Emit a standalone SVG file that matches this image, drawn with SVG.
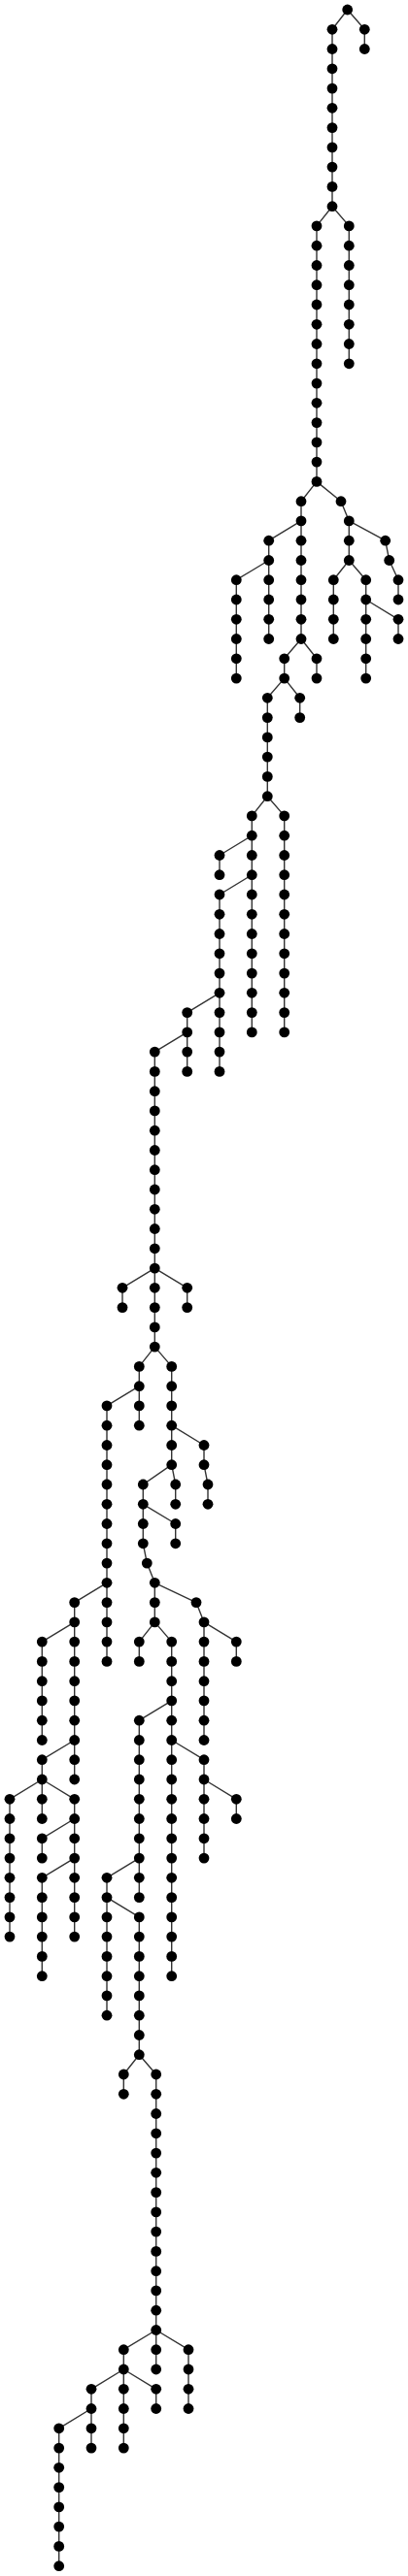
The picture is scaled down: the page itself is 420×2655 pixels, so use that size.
<svg xmlns="http://www.w3.org/2000/svg" width="420" height="2655" viewBox="0 0 420 2655">
<style>
.edges path{fill:none;stroke:#333;stroke-width:1.4}
.node circle{fill:#000}
</style>
<rect width="420" height="2655" fill="#fff"/>
<g id="connectors" class="edges">
<path d="M342 30.3V212.7M375.3 30.3V50.5M359.3 232.9V374.8M326 232.9V496.4M310 516.7V658.5M276.7 557.2V658.5M243.3 597.7V699.1M326 678.8V699.1M292.7 678.8V699.1M308.7 719.3V739.6M275.3 719.3V820.7M292.7 840.9V1063.9M259.3 840.9V1063.9M226 881.5V901.7M226 922V1104.4M192.7 1043.6V1104.4M159.3 1084.1V1388.1M126 1327.3V1347.6M192.7 1327.3V1347.6M143.3 1408.4V1469.2M110 1448.9V1712.4M76.7 1651.6V1834M43.3 1692.1V1793.5M43.3 1813.7V1874.5M10 1854.3V1996.1M76.7 1854.3V1996.1M43.3 1894.8V1915.1M43.3 1935.3V2036.7M176.7 1408.4V1509.7M210 1489.5V1509.7M214 1530V1550.3M180.7 1530V1550.3M147.3 1530V1590.8M180.7 1570.5V1590.8M159.3 1631.3V1671.9M143.3 1692.1V1712.4M176.7 1692.1V2036.7M210 1671.9V1793.5M243.3 1692.1V1712.4M210 1813.7V1915.1M243.3 1854.3V1874.5M143.3 1773.2V1955.6M110 1935.3V2077.2M143.3 1975.9V2117.7M127.3 2138V2158.3M160.7 2138V2442M194 2421.7V2482.5M127.3 2421.7V2523.1M160.7 2462.3V2482.5M94 2462.3V2523.1M60.7 2502.8V2644.7M359.3 536.9V577.5M343.3 597.7V658.5M376.7 597.7V699.1M410 638.3V658.5M410 597.7V618"/>
<path d="M357.7 10L342 30.3M357.7 10L375.3 30.3M342 212.7L326 232.9M342 212.7L359.3 232.9M326 496.4L310 516.7M326 496.4L351 516.7M351 516.7L359.3 536.9M359.3 536.9L396.7 557.2M396.7 557.2L400.7 577.5M400.7 577.5L410 597.7M359.3 577.5L343.3 597.7M359.3 577.5L376.7 597.7M376.7 618L410 638.3M310 536.9L276.7 557.2M276.7 577.5L243.3 597.7M310 658.5L292.7 678.8M310 658.5L326 678.8M292.7 699.1L275.3 719.3M292.7 699.1L308.7 719.3M275.3 820.7L259.3 840.9M275.3 820.7L292.7 840.9M259.3 861.2L226 881.5M259.3 901.7L226 922M226 1023.3L192.7 1043.6M192.7 1063.9L159.3 1084.1M159.3 1307.1L126 1327.3M159.3 1307.1L192.7 1327.3M159.3 1388.1L143.3 1408.4M159.3 1388.1L176.7 1408.4M143.3 1428.7L110 1448.9M110 1631.3L76.7 1651.6M76.7 1671.9L43.3 1692.1M76.7 1793.5L43.3 1813.7M43.3 1834L10 1854.3M43.3 1834L76.7 1854.3M76.7 1874.5L43.3 1894.8M76.7 1915.1L43.3 1935.3M176.7 1469.2L210 1489.5M210 1509.7L214 1530M176.7 1509.7L147.3 1530M176.7 1509.7L180.7 1530M147.3 1550.3L180.7 1570.5M147.3 1590.8L151.3 1611.1M151.3 1611.1L159.3 1631.3M159.3 1631.3L202 1651.6M202 1651.6L210 1671.9M210 1671.9L243.3 1692.1M159.3 1671.9L143.3 1692.1M159.3 1671.9L176.7 1692.1M176.7 1752.9L143.3 1773.2M176.7 1793.5L210 1813.7M210 1834L243.3 1854.3M143.3 1915.1L110 1935.3M110 1955.6L143.3 1975.9M143.3 2117.7L127.3 2138M143.3 2117.7L160.7 2138M160.7 2401.5L127.3 2421.7M160.7 2401.5L194 2421.7M127.3 2442L94 2462.3M127.3 2442L160.7 2462.3M94 2482.5L60.7 2502.8"/>
</g>
<g id="nodes" class="node">
<g id="n0"><circle cx="357.7" cy="10" r="5.4"/></g>
<g id="n1"><circle cx="342" cy="30.3" r="5.4"/></g>
<g id="n2"><circle cx="342" cy="50.5" r="5.4"/></g>
<g id="n3"><circle cx="342" cy="70.8" r="5.4"/></g>
<g id="n4"><circle cx="342" cy="91.1" r="5.4"/></g>
<g id="n5"><circle cx="342" cy="111.3" r="5.4"/></g>
<g id="n6"><circle cx="342" cy="131.6" r="5.4"/></g>
<g id="n7"><circle cx="342" cy="151.9" r="5.4"/></g>
<g id="n8"><circle cx="342" cy="172.1" r="5.4"/></g>
<g id="n9"><circle cx="342" cy="192.4" r="5.4"/></g>
<g id="n10"><circle cx="342" cy="212.7" r="5.4"/></g>
<g id="n11"><circle cx="375.3" cy="30.3" r="5.4"/></g>
<g id="n12"><circle cx="375.3" cy="50.5" r="5.4"/></g>
<g id="n13"><circle cx="359.3" cy="232.9" r="5.4"/></g>
<g id="n14"><circle cx="359.3" cy="253.2" r="5.4"/></g>
<g id="n15"><circle cx="359.3" cy="273.5" r="5.4"/></g>
<g id="n16"><circle cx="359.3" cy="293.7" r="5.4"/></g>
<g id="n17"><circle cx="359.3" cy="314" r="5.4"/></g>
<g id="n18"><circle cx="359.3" cy="334.3" r="5.4"/></g>
<g id="n19"><circle cx="359.3" cy="354.5" r="5.4"/></g>
<g id="n20"><circle cx="359.3" cy="374.8" r="5.4"/></g>
<g id="n21"><circle cx="326" cy="232.9" r="5.4"/></g>
<g id="n22"><circle cx="326" cy="253.2" r="5.4"/></g>
<g id="n23"><circle cx="326" cy="273.5" r="5.4"/></g>
<g id="n24"><circle cx="326" cy="293.7" r="5.4"/></g>
<g id="n25"><circle cx="326" cy="314" r="5.4"/></g>
<g id="n26"><circle cx="326" cy="334.3" r="5.4"/></g>
<g id="n27"><circle cx="326" cy="354.5" r="5.4"/></g>
<g id="n28"><circle cx="326" cy="374.8" r="5.4"/></g>
<g id="n29"><circle cx="326" cy="395.1" r="5.4"/></g>
<g id="n30"><circle cx="326" cy="415.3" r="5.4"/></g>
<g id="n31"><circle cx="326" cy="435.6" r="5.4"/></g>
<g id="n32"><circle cx="326" cy="455.9" r="5.4"/></g>
<g id="n33"><circle cx="326" cy="476.1" r="5.4"/></g>
<g id="n34"><circle cx="326" cy="496.4" r="5.4"/></g>
<g id="n35"><circle cx="351" cy="516.7" r="5.4"/></g>
<g id="n36"><circle cx="359.3" cy="536.9" r="5.4"/></g>
<g id="n37"><circle cx="359.3" cy="557.2" r="5.4"/></g>
<g id="n38"><circle cx="359.3" cy="577.5" r="5.4"/></g>
<g id="n39"><circle cx="396.7" cy="557.2" r="5.4"/></g>
<g id="n40"><circle cx="400.7" cy="577.5" r="5.4"/></g>
<g id="n41"><circle cx="410" cy="597.7" r="5.4"/></g>
<g id="n42"><circle cx="410" cy="618" r="5.4"/></g>
<g id="n43"><circle cx="343.3" cy="597.7" r="5.4"/></g>
<g id="n44"><circle cx="343.3" cy="618" r="5.4"/></g>
<g id="n45"><circle cx="343.3" cy="638.3" r="5.4"/></g>
<g id="n46"><circle cx="343.3" cy="658.5" r="5.4"/></g>
<g id="n47"><circle cx="376.7" cy="597.7" r="5.4"/></g>
<g id="n48"><circle cx="376.7" cy="618" r="5.4"/></g>
<g id="n49"><circle cx="376.7" cy="638.3" r="5.4"/></g>
<g id="n50"><circle cx="376.7" cy="658.5" r="5.4"/></g>
<g id="n51"><circle cx="376.7" cy="678.8" r="5.4"/></g>
<g id="n52"><circle cx="376.7" cy="699.1" r="5.4"/></g>
<g id="n53"><circle cx="410" cy="638.3" r="5.4"/></g>
<g id="n54"><circle cx="410" cy="658.5" r="5.4"/></g>
<g id="n55"><circle cx="310" cy="516.7" r="5.4"/></g>
<g id="n56"><circle cx="310" cy="536.9" r="5.4"/></g>
<g id="n57"><circle cx="310" cy="557.2" r="5.4"/></g>
<g id="n58"><circle cx="310" cy="577.5" r="5.4"/></g>
<g id="n59"><circle cx="310" cy="597.7" r="5.4"/></g>
<g id="n60"><circle cx="310" cy="618" r="5.4"/></g>
<g id="n61"><circle cx="310" cy="638.3" r="5.4"/></g>
<g id="n62"><circle cx="310" cy="658.5" r="5.4"/></g>
<g id="n63"><circle cx="276.7" cy="557.2" r="5.4"/></g>
<g id="n64"><circle cx="276.7" cy="577.5" r="5.4"/></g>
<g id="n65"><circle cx="276.7" cy="597.7" r="5.4"/></g>
<g id="n66"><circle cx="276.7" cy="618" r="5.4"/></g>
<g id="n67"><circle cx="276.7" cy="638.3" r="5.4"/></g>
<g id="n68"><circle cx="276.7" cy="658.5" r="5.4"/></g>
<g id="n69"><circle cx="243.3" cy="597.7" r="5.4"/></g>
<g id="n70"><circle cx="243.3" cy="618" r="5.4"/></g>
<g id="n71"><circle cx="243.3" cy="638.3" r="5.4"/></g>
<g id="n72"><circle cx="243.3" cy="658.5" r="5.4"/></g>
<g id="n73"><circle cx="243.3" cy="678.8" r="5.4"/></g>
<g id="n74"><circle cx="243.3" cy="699.1" r="5.4"/></g>
<g id="n75"><circle cx="326" cy="678.8" r="5.4"/></g>
<g id="n76"><circle cx="326" cy="699.1" r="5.4"/></g>
<g id="n77"><circle cx="292.7" cy="678.8" r="5.4"/></g>
<g id="n78"><circle cx="292.7" cy="699.1" r="5.4"/></g>
<g id="n79"><circle cx="308.7" cy="719.3" r="5.4"/></g>
<g id="n80"><circle cx="308.7" cy="739.6" r="5.4"/></g>
<g id="n81"><circle cx="275.3" cy="719.3" r="5.4"/></g>
<g id="n82"><circle cx="275.3" cy="739.6" r="5.4"/></g>
<g id="n83"><circle cx="275.3" cy="759.9" r="5.4"/></g>
<g id="n84"><circle cx="275.3" cy="780.1" r="5.4"/></g>
<g id="n85"><circle cx="275.3" cy="800.4" r="5.4"/></g>
<g id="n86"><circle cx="275.3" cy="820.7" r="5.4"/></g>
<g id="n87"><circle cx="292.7" cy="840.9" r="5.4"/></g>
<g id="n88"><circle cx="292.7" cy="861.2" r="5.4"/></g>
<g id="n89"><circle cx="292.7" cy="881.5" r="5.4"/></g>
<g id="n90"><circle cx="292.7" cy="901.7" r="5.4"/></g>
<g id="n91"><circle cx="292.7" cy="922" r="5.4"/></g>
<g id="n92"><circle cx="292.7" cy="942.3" r="5.4"/></g>
<g id="n93"><circle cx="292.7" cy="962.5" r="5.4"/></g>
<g id="n94"><circle cx="292.7" cy="982.8" r="5.4"/></g>
<g id="n95"><circle cx="292.7" cy="1003.1" r="5.4"/></g>
<g id="n96"><circle cx="292.7" cy="1023.3" r="5.4"/></g>
<g id="n97"><circle cx="292.7" cy="1043.6" r="5.4"/></g>
<g id="n98"><circle cx="292.7" cy="1063.9" r="5.4"/></g>
<g id="n99"><circle cx="259.3" cy="840.9" r="5.4"/></g>
<g id="n100"><circle cx="259.3" cy="861.2" r="5.4"/></g>
<g id="n101"><circle cx="259.3" cy="881.5" r="5.4"/></g>
<g id="n102"><circle cx="259.3" cy="901.7" r="5.4"/></g>
<g id="n103"><circle cx="259.3" cy="922" r="5.4"/></g>
<g id="n104"><circle cx="259.3" cy="942.3" r="5.4"/></g>
<g id="n105"><circle cx="259.3" cy="962.5" r="5.4"/></g>
<g id="n106"><circle cx="259.3" cy="982.8" r="5.4"/></g>
<g id="n107"><circle cx="259.3" cy="1003.1" r="5.4"/></g>
<g id="n108"><circle cx="259.3" cy="1023.3" r="5.4"/></g>
<g id="n109"><circle cx="259.3" cy="1043.6" r="5.4"/></g>
<g id="n110"><circle cx="259.3" cy="1063.9" r="5.4"/></g>
<g id="n111"><circle cx="226" cy="881.5" r="5.4"/></g>
<g id="n112"><circle cx="226" cy="901.7" r="5.4"/></g>
<g id="n113"><circle cx="226" cy="922" r="5.4"/></g>
<g id="n114"><circle cx="226" cy="942.3" r="5.4"/></g>
<g id="n115"><circle cx="226" cy="962.5" r="5.4"/></g>
<g id="n116"><circle cx="226" cy="982.8" r="5.4"/></g>
<g id="n117"><circle cx="226" cy="1003.1" r="5.4"/></g>
<g id="n118"><circle cx="226" cy="1023.3" r="5.4"/></g>
<g id="n119"><circle cx="226" cy="1043.6" r="5.4"/></g>
<g id="n120"><circle cx="226" cy="1063.9" r="5.4"/></g>
<g id="n121"><circle cx="226" cy="1084.1" r="5.4"/></g>
<g id="n122"><circle cx="226" cy="1104.4" r="5.4"/></g>
<g id="n123"><circle cx="192.7" cy="1043.6" r="5.4"/></g>
<g id="n124"><circle cx="192.7" cy="1063.9" r="5.4"/></g>
<g id="n125"><circle cx="192.7" cy="1084.1" r="5.4"/></g>
<g id="n126"><circle cx="192.7" cy="1104.4" r="5.4"/></g>
<g id="n127"><circle cx="159.3" cy="1084.1" r="5.4"/></g>
<g id="n128"><circle cx="159.3" cy="1104.4" r="5.4"/></g>
<g id="n129"><circle cx="159.3" cy="1124.7" r="5.4"/></g>
<g id="n130"><circle cx="159.3" cy="1144.9" r="5.4"/></g>
<g id="n131"><circle cx="159.3" cy="1165.2" r="5.4"/></g>
<g id="n132"><circle cx="159.3" cy="1185.5" r="5.4"/></g>
<g id="n133"><circle cx="159.3" cy="1205.7" r="5.4"/></g>
<g id="n134"><circle cx="159.3" cy="1226" r="5.4"/></g>
<g id="n135"><circle cx="159.3" cy="1246.3" r="5.4"/></g>
<g id="n136"><circle cx="159.3" cy="1266.5" r="5.4"/></g>
<g id="n137"><circle cx="159.3" cy="1286.8" r="5.4"/></g>
<g id="n138"><circle cx="159.3" cy="1307.1" r="5.4"/></g>
<g id="n139"><circle cx="159.3" cy="1327.3" r="5.4"/></g>
<g id="n140"><circle cx="159.3" cy="1347.6" r="5.4"/></g>
<g id="n141"><circle cx="159.3" cy="1367.9" r="5.4"/></g>
<g id="n142"><circle cx="159.3" cy="1388.1" r="5.4"/></g>
<g id="n143"><circle cx="126" cy="1327.3" r="5.4"/></g>
<g id="n144"><circle cx="126" cy="1347.6" r="5.4"/></g>
<g id="n145"><circle cx="192.7" cy="1327.3" r="5.4"/></g>
<g id="n146"><circle cx="192.7" cy="1347.6" r="5.4"/></g>
<g id="n147"><circle cx="143.3" cy="1408.4" r="5.4"/></g>
<g id="n148"><circle cx="143.3" cy="1428.7" r="5.4"/></g>
<g id="n149"><circle cx="143.3" cy="1448.9" r="5.4"/></g>
<g id="n150"><circle cx="143.3" cy="1469.2" r="5.4"/></g>
<g id="n151"><circle cx="110" cy="1448.9" r="5.4"/></g>
<g id="n152"><circle cx="110" cy="1469.2" r="5.4"/></g>
<g id="n153"><circle cx="110" cy="1489.5" r="5.4"/></g>
<g id="n154"><circle cx="110" cy="1509.7" r="5.4"/></g>
<g id="n155"><circle cx="110" cy="1530" r="5.4"/></g>
<g id="n156"><circle cx="110" cy="1550.3" r="5.4"/></g>
<g id="n157"><circle cx="110" cy="1570.5" r="5.4"/></g>
<g id="n158"><circle cx="110" cy="1590.8" r="5.4"/></g>
<g id="n159"><circle cx="110" cy="1611.1" r="5.4"/></g>
<g id="n160"><circle cx="110" cy="1631.3" r="5.4"/></g>
<g id="n161"><circle cx="110" cy="1651.6" r="5.4"/></g>
<g id="n162"><circle cx="110" cy="1671.9" r="5.4"/></g>
<g id="n163"><circle cx="110" cy="1692.1" r="5.4"/></g>
<g id="n164"><circle cx="110" cy="1712.4" r="5.4"/></g>
<g id="n165"><circle cx="76.7" cy="1651.6" r="5.4"/></g>
<g id="n166"><circle cx="76.7" cy="1671.9" r="5.4"/></g>
<g id="n167"><circle cx="76.7" cy="1692.1" r="5.4"/></g>
<g id="n168"><circle cx="76.7" cy="1712.4" r="5.4"/></g>
<g id="n169"><circle cx="76.7" cy="1732.7" r="5.4"/></g>
<g id="n170"><circle cx="76.7" cy="1752.9" r="5.4"/></g>
<g id="n171"><circle cx="76.7" cy="1773.2" r="5.4"/></g>
<g id="n172"><circle cx="76.7" cy="1793.5" r="5.4"/></g>
<g id="n173"><circle cx="76.7" cy="1813.7" r="5.4"/></g>
<g id="n174"><circle cx="76.7" cy="1834" r="5.4"/></g>
<g id="n175"><circle cx="43.3" cy="1692.1" r="5.4"/></g>
<g id="n176"><circle cx="43.3" cy="1712.4" r="5.4"/></g>
<g id="n177"><circle cx="43.3" cy="1732.7" r="5.4"/></g>
<g id="n178"><circle cx="43.3" cy="1752.9" r="5.4"/></g>
<g id="n179"><circle cx="43.3" cy="1773.2" r="5.4"/></g>
<g id="n180"><circle cx="43.3" cy="1793.5" r="5.4"/></g>
<g id="n181"><circle cx="43.3" cy="1813.7" r="5.4"/></g>
<g id="n182"><circle cx="43.3" cy="1834" r="5.4"/></g>
<g id="n183"><circle cx="43.3" cy="1854.3" r="5.4"/></g>
<g id="n184"><circle cx="43.3" cy="1874.5" r="5.4"/></g>
<g id="n185"><circle cx="10" cy="1854.3" r="5.4"/></g>
<g id="n186"><circle cx="10" cy="1874.5" r="5.4"/></g>
<g id="n187"><circle cx="10" cy="1894.8" r="5.4"/></g>
<g id="n188"><circle cx="10" cy="1915.1" r="5.4"/></g>
<g id="n189"><circle cx="10" cy="1935.3" r="5.4"/></g>
<g id="n190"><circle cx="10" cy="1955.6" r="5.4"/></g>
<g id="n191"><circle cx="10" cy="1975.9" r="5.4"/></g>
<g id="n192"><circle cx="10" cy="1996.1" r="5.4"/></g>
<g id="n193"><circle cx="76.7" cy="1854.3" r="5.4"/></g>
<g id="n194"><circle cx="76.7" cy="1874.5" r="5.4"/></g>
<g id="n195"><circle cx="76.7" cy="1894.8" r="5.4"/></g>
<g id="n196"><circle cx="76.7" cy="1915.1" r="5.4"/></g>
<g id="n197"><circle cx="76.7" cy="1935.3" r="5.4"/></g>
<g id="n198"><circle cx="76.7" cy="1955.6" r="5.4"/></g>
<g id="n199"><circle cx="76.7" cy="1975.9" r="5.4"/></g>
<g id="n200"><circle cx="76.7" cy="1996.1" r="5.4"/></g>
<g id="n201"><circle cx="43.3" cy="1894.8" r="5.4"/></g>
<g id="n202"><circle cx="43.3" cy="1915.1" r="5.4"/></g>
<g id="n203"><circle cx="43.3" cy="1935.3" r="5.4"/></g>
<g id="n204"><circle cx="43.3" cy="1955.6" r="5.4"/></g>
<g id="n205"><circle cx="43.3" cy="1975.9" r="5.4"/></g>
<g id="n206"><circle cx="43.3" cy="1996.1" r="5.4"/></g>
<g id="n207"><circle cx="43.3" cy="2016.4" r="5.4"/></g>
<g id="n208"><circle cx="43.3" cy="2036.7" r="5.4"/></g>
<g id="n209"><circle cx="176.7" cy="1408.4" r="5.4"/></g>
<g id="n210"><circle cx="176.7" cy="1428.7" r="5.4"/></g>
<g id="n211"><circle cx="176.7" cy="1448.9" r="5.4"/></g>
<g id="n212"><circle cx="176.7" cy="1469.2" r="5.4"/></g>
<g id="n213"><circle cx="176.7" cy="1489.5" r="5.4"/></g>
<g id="n214"><circle cx="176.7" cy="1509.7" r="5.4"/></g>
<g id="n215"><circle cx="210" cy="1489.5" r="5.4"/></g>
<g id="n216"><circle cx="210" cy="1509.7" r="5.4"/></g>
<g id="n217"><circle cx="214" cy="1530" r="5.4"/></g>
<g id="n218"><circle cx="214" cy="1550.3" r="5.4"/></g>
<g id="n219"><circle cx="180.7" cy="1530" r="5.4"/></g>
<g id="n220"><circle cx="180.7" cy="1550.3" r="5.4"/></g>
<g id="n221"><circle cx="147.3" cy="1530" r="5.4"/></g>
<g id="n222"><circle cx="147.3" cy="1550.3" r="5.4"/></g>
<g id="n223"><circle cx="147.3" cy="1570.5" r="5.4"/></g>
<g id="n224"><circle cx="147.3" cy="1590.8" r="5.4"/></g>
<g id="n225"><circle cx="180.7" cy="1570.5" r="5.4"/></g>
<g id="n226"><circle cx="180.7" cy="1590.8" r="5.4"/></g>
<g id="n227"><circle cx="151.3" cy="1611.1" r="5.4"/></g>
<g id="n228"><circle cx="159.3" cy="1631.3" r="5.4"/></g>
<g id="n229"><circle cx="159.3" cy="1651.6" r="5.4"/></g>
<g id="n230"><circle cx="159.3" cy="1671.9" r="5.4"/></g>
<g id="n231"><circle cx="143.3" cy="1692.1" r="5.4"/></g>
<g id="n232"><circle cx="143.3" cy="1712.4" r="5.4"/></g>
<g id="n233"><circle cx="176.7" cy="1692.1" r="5.4"/></g>
<g id="n234"><circle cx="176.7" cy="1712.4" r="5.4"/></g>
<g id="n235"><circle cx="176.7" cy="1732.7" r="5.4"/></g>
<g id="n236"><circle cx="176.7" cy="1752.9" r="5.4"/></g>
<g id="n237"><circle cx="176.7" cy="1773.2" r="5.4"/></g>
<g id="n238"><circle cx="176.7" cy="1793.5" r="5.4"/></g>
<g id="n239"><circle cx="176.7" cy="1813.7" r="5.4"/></g>
<g id="n240"><circle cx="176.7" cy="1834" r="5.4"/></g>
<g id="n241"><circle cx="176.7" cy="1854.3" r="5.4"/></g>
<g id="n242"><circle cx="176.7" cy="1874.5" r="5.4"/></g>
<g id="n243"><circle cx="176.7" cy="1894.8" r="5.4"/></g>
<g id="n244"><circle cx="176.7" cy="1915.1" r="5.4"/></g>
<g id="n245"><circle cx="176.7" cy="1935.3" r="5.4"/></g>
<g id="n246"><circle cx="176.7" cy="1955.6" r="5.4"/></g>
<g id="n247"><circle cx="176.7" cy="1975.9" r="5.4"/></g>
<g id="n248"><circle cx="176.7" cy="1996.1" r="5.4"/></g>
<g id="n249"><circle cx="176.7" cy="2016.4" r="5.4"/></g>
<g id="n250"><circle cx="176.7" cy="2036.7" r="5.4"/></g>
<g id="n251"><circle cx="202" cy="1651.6" r="5.4"/></g>
<g id="n252"><circle cx="210" cy="1671.9" r="5.4"/></g>
<g id="n253"><circle cx="210" cy="1692.1" r="5.4"/></g>
<g id="n254"><circle cx="210" cy="1712.4" r="5.4"/></g>
<g id="n255"><circle cx="210" cy="1732.7" r="5.4"/></g>
<g id="n256"><circle cx="210" cy="1752.9" r="5.4"/></g>
<g id="n257"><circle cx="210" cy="1773.2" r="5.4"/></g>
<g id="n258"><circle cx="210" cy="1793.5" r="5.4"/></g>
<g id="n259"><circle cx="243.3" cy="1692.1" r="5.4"/></g>
<g id="n260"><circle cx="243.3" cy="1712.4" r="5.4"/></g>
<g id="n261"><circle cx="210" cy="1813.7" r="5.4"/></g>
<g id="n262"><circle cx="210" cy="1834" r="5.4"/></g>
<g id="n263"><circle cx="210" cy="1854.3" r="5.4"/></g>
<g id="n264"><circle cx="210" cy="1874.5" r="5.4"/></g>
<g id="n265"><circle cx="210" cy="1894.8" r="5.4"/></g>
<g id="n266"><circle cx="210" cy="1915.1" r="5.4"/></g>
<g id="n267"><circle cx="243.3" cy="1854.3" r="5.4"/></g>
<g id="n268"><circle cx="243.3" cy="1874.5" r="5.4"/></g>
<g id="n269"><circle cx="143.3" cy="1773.2" r="5.4"/></g>
<g id="n270"><circle cx="143.3" cy="1793.5" r="5.4"/></g>
<g id="n271"><circle cx="143.3" cy="1813.7" r="5.4"/></g>
<g id="n272"><circle cx="143.3" cy="1834" r="5.4"/></g>
<g id="n273"><circle cx="143.3" cy="1854.3" r="5.4"/></g>
<g id="n274"><circle cx="143.3" cy="1874.5" r="5.4"/></g>
<g id="n275"><circle cx="143.3" cy="1894.8" r="5.4"/></g>
<g id="n276"><circle cx="143.3" cy="1915.1" r="5.4"/></g>
<g id="n277"><circle cx="143.3" cy="1935.3" r="5.4"/></g>
<g id="n278"><circle cx="143.3" cy="1955.6" r="5.4"/></g>
<g id="n279"><circle cx="110" cy="1935.3" r="5.4"/></g>
<g id="n280"><circle cx="110" cy="1955.6" r="5.4"/></g>
<g id="n281"><circle cx="110" cy="1975.9" r="5.4"/></g>
<g id="n282"><circle cx="110" cy="1996.1" r="5.4"/></g>
<g id="n283"><circle cx="110" cy="2016.4" r="5.4"/></g>
<g id="n284"><circle cx="110" cy="2036.7" r="5.4"/></g>
<g id="n285"><circle cx="110" cy="2056.9" r="5.4"/></g>
<g id="n286"><circle cx="110" cy="2077.2" r="5.4"/></g>
<g id="n287"><circle cx="143.3" cy="1975.9" r="5.4"/></g>
<g id="n288"><circle cx="143.3" cy="1996.1" r="5.4"/></g>
<g id="n289"><circle cx="143.3" cy="2016.4" r="5.4"/></g>
<g id="n290"><circle cx="143.3" cy="2036.7" r="5.4"/></g>
<g id="n291"><circle cx="143.3" cy="2056.9" r="5.4"/></g>
<g id="n292"><circle cx="143.3" cy="2077.2" r="5.4"/></g>
<g id="n293"><circle cx="143.3" cy="2097.5" r="5.4"/></g>
<g id="n294"><circle cx="143.3" cy="2117.7" r="5.4"/></g>
<g id="n295"><circle cx="127.3" cy="2138" r="5.4"/></g>
<g id="n296"><circle cx="127.3" cy="2158.3" r="5.4"/></g>
<g id="n297"><circle cx="160.7" cy="2138" r="5.4"/></g>
<g id="n298"><circle cx="160.7" cy="2158.3" r="5.4"/></g>
<g id="n299"><circle cx="160.7" cy="2178.5" r="5.4"/></g>
<g id="n300"><circle cx="160.7" cy="2198.8" r="5.4"/></g>
<g id="n301"><circle cx="160.7" cy="2219.1" r="5.4"/></g>
<g id="n302"><circle cx="160.7" cy="2239.3" r="5.4"/></g>
<g id="n303"><circle cx="160.7" cy="2259.6" r="5.4"/></g>
<g id="n304"><circle cx="160.7" cy="2279.9" r="5.4"/></g>
<g id="n305"><circle cx="160.7" cy="2300.1" r="5.4"/></g>
<g id="n306"><circle cx="160.7" cy="2320.4" r="5.4"/></g>
<g id="n307"><circle cx="160.7" cy="2340.7" r="5.4"/></g>
<g id="n308"><circle cx="160.7" cy="2360.9" r="5.4"/></g>
<g id="n309"><circle cx="160.7" cy="2381.2" r="5.4"/></g>
<g id="n310"><circle cx="160.7" cy="2401.5" r="5.4"/></g>
<g id="n311"><circle cx="160.7" cy="2421.7" r="5.4"/></g>
<g id="n312"><circle cx="160.7" cy="2442" r="5.4"/></g>
<g id="n313"><circle cx="194" cy="2421.7" r="5.4"/></g>
<g id="n314"><circle cx="194" cy="2442" r="5.4"/></g>
<g id="n315"><circle cx="194" cy="2462.3" r="5.4"/></g>
<g id="n316"><circle cx="194" cy="2482.5" r="5.4"/></g>
<g id="n317"><circle cx="127.3" cy="2421.7" r="5.4"/></g>
<g id="n318"><circle cx="127.3" cy="2442" r="5.4"/></g>
<g id="n319"><circle cx="127.3" cy="2462.3" r="5.4"/></g>
<g id="n320"><circle cx="127.3" cy="2482.5" r="5.4"/></g>
<g id="n321"><circle cx="127.3" cy="2502.8" r="5.4"/></g>
<g id="n322"><circle cx="127.3" cy="2523.1" r="5.4"/></g>
<g id="n323"><circle cx="160.7" cy="2462.3" r="5.4"/></g>
<g id="n324"><circle cx="160.7" cy="2482.5" r="5.4"/></g>
<g id="n325"><circle cx="94" cy="2462.3" r="5.4"/></g>
<g id="n326"><circle cx="94" cy="2482.5" r="5.4"/></g>
<g id="n327"><circle cx="94" cy="2502.8" r="5.4"/></g>
<g id="n328"><circle cx="94" cy="2523.1" r="5.4"/></g>
<g id="n329"><circle cx="60.7" cy="2502.8" r="5.4"/></g>
<g id="n330"><circle cx="60.7" cy="2523.1" r="5.4"/></g>
<g id="n331"><circle cx="60.7" cy="2543.3" r="5.4"/></g>
<g id="n332"><circle cx="60.7" cy="2563.6" r="5.4"/></g>
<g id="n333"><circle cx="60.7" cy="2583.9" r="5.4"/></g>
<g id="n334"><circle cx="60.7" cy="2604.1" r="5.4"/></g>
<g id="n335"><circle cx="60.7" cy="2624.4" r="5.4"/></g>
<g id="n336"><circle cx="60.7" cy="2644.7" r="5.4"/></g>
</g>
</svg>
